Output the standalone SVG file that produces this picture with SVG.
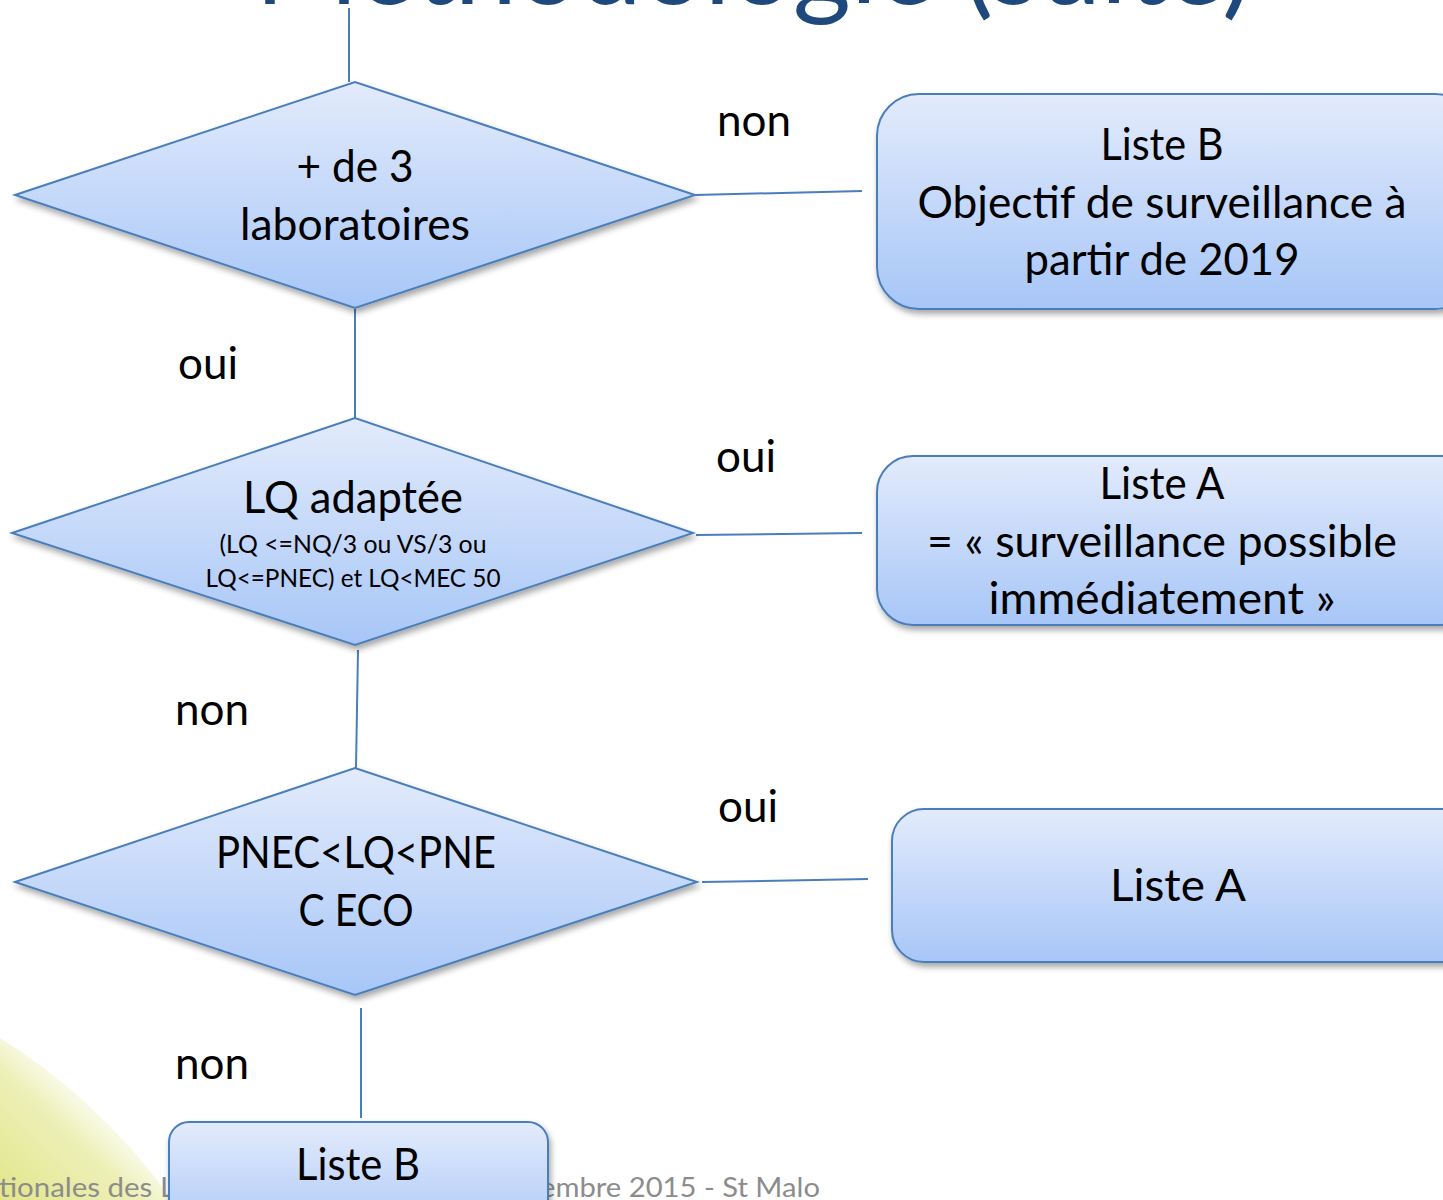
<svg xmlns="http://www.w3.org/2000/svg" width="1443" height="1200" viewBox="0 0 1443 1200">
<defs>
<linearGradient id="fillg" x1="0" y1="0" x2="0" y2="1">
<stop offset="0" stop-color="#e3ebfc"/>
<stop offset="1" stop-color="#a7c6f7"/>
</linearGradient>
<linearGradient id="yel" x1="0" y1="1" x2="0.75" y2="0.25">
<stop offset="0" stop-color="#e2e68a"/>
<stop offset="0.55" stop-color="#edf0b8"/>
<stop offset="1" stop-color="#ffffff" stop-opacity="0"/>
</linearGradient>
<filter id="sh" x="-10%" y="-10%" width="125%" height="130%">
<feDropShadow dx="2" dy="4" stdDeviation="3" flood-color="#000" flood-opacity="0.35"/>
</filter>
</defs>
<style>
.shape{fill:url(#fillg);stroke:#4a7ebb;stroke-width:2;filter:url(#sh)}
.conn line{stroke:#4a7ebb;stroke-width:2}
text{font-family:Lato,"Open Sans","Liberation Sans",sans-serif;fill:#000}
.big{font-size:44px;text-anchor:middle}
.small{font-size:25px;text-anchor:middle}
.lbl{font-size:44px}
.title{font-size:112px;fill:#1f497d}
.foot{font-size:27px;fill:#8c8c8c}
</style>
<rect width="1443" height="1200" fill="#ffffff"/>
<path d="M0,1038 Q100,1100 172,1200 L0,1200 Z" fill="url(#yel)"/>
<text class="title" x="255" y="4" textLength="997">Méthodologie (suite)</text>
<text class="foot" x="-1" y="1197" textLength="176" lengthAdjust="spacingAndGlyphs">tionales des L</text>
<text class="foot" x="540" y="1197" textLength="280" lengthAdjust="spacingAndGlyphs">embre 2015 - St Malo</text>
<g class="conn">
<line x1="349" y1="8" x2="349" y2="82"/>
<line x1="695" y1="195" x2="862" y2="191"/>
<line x1="355" y1="309" x2="355" y2="418"/>
<line x1="696" y1="535" x2="862" y2="533"/>
<line x1="358" y1="650" x2="356" y2="768"/>
<line x1="702" y1="882" x2="868" y2="879"/>
<line x1="361" y1="1008" x2="361" y2="1118"/>
</g>
<g id="d1"><polygon class="shape" points="15,195 355,82 695,195 355,308"/>
<text class="big" x="355" y="182" textLength="117" lengthAdjust="spacingAndGlyphs">+ de 3</text>
<text class="big" x="355" y="240" textLength="230" lengthAdjust="spacingAndGlyphs">laboratoires</text></g>
<g id="b1"><rect class="shape" x="877" y="94" width="600" height="215" rx="42"/>
<text class="big" x="1162" y="160" textLength="123" lengthAdjust="spacingAndGlyphs">Liste B</text>
<text class="big" x="1162" y="218" textLength="489" lengthAdjust="spacingAndGlyphs">Objectif de surveillance à</text>
<text class="big" x="1162" y="275" textLength="275" lengthAdjust="spacingAndGlyphs">partir de 2019</text></g>
<g id="d2"><polygon class="shape" points="12,533 355,418 693,533 355,645"/>
<text class="big" x="353" y="513" textLength="220" lengthAdjust="spacingAndGlyphs">LQ adaptée</text>
<text class="small" x="353" y="553" textLength="267" lengthAdjust="spacingAndGlyphs">(LQ &lt;=NQ/3 ou VS/3 ou</text>
<text class="small" x="353" y="587" textLength="295" lengthAdjust="spacingAndGlyphs">LQ&lt;=PNEC) et LQ&lt;MEC 50</text></g>
<g id="b2"><rect class="shape" x="877" y="456" width="600" height="169" rx="36"/>
<text class="big" x="1162" y="499" textLength="125" lengthAdjust="spacingAndGlyphs">Liste A</text>
<text class="big" x="1162" y="557" textLength="470" lengthAdjust="spacingAndGlyphs">= « surveillance possible</text>
<text class="big" x="1162" y="614" textLength="347" lengthAdjust="spacingAndGlyphs">immédiatement »</text></g>
<g id="d3"><polygon class="shape" points="15,882 355,768 697,882 355,995"/>
<text class="big" x="356" y="868" textLength="280" lengthAdjust="spacingAndGlyphs">PNEC&lt;LQ&lt;PNE</text>
<text class="big" x="356" y="926" textLength="115" lengthAdjust="spacingAndGlyphs">C ECO</text></g>
<g id="b3"><rect class="shape" x="892" y="809" width="600" height="153" rx="32"/>
<text class="big" x="1178" y="901" textLength="136" lengthAdjust="spacingAndGlyphs">Liste  A</text></g>
<g id="b4"><rect class="shape" x="169" y="1122" width="379" height="120" rx="20"/>
<text class="big" x="358" y="1180" textLength="124" lengthAdjust="spacingAndGlyphs">Liste B</text></g>
<g id="labels">
<text class="lbl" x="717" y="136">non</text>
<text class="lbl" x="178" y="379">oui</text>
<text class="lbl" x="716" y="472">oui</text>
<text class="lbl" x="175" y="725">non</text>
<text class="lbl" x="718" y="822">oui</text>
<text class="lbl" x="175" y="1079">non</text>
</g>
</svg>
